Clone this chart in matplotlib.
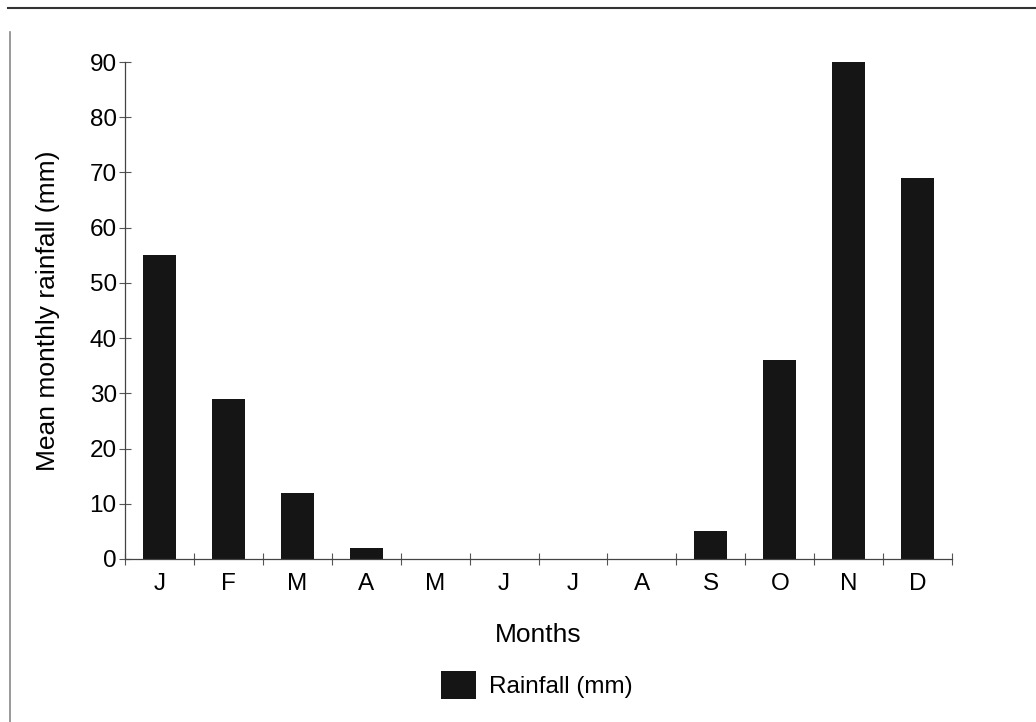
import numpy as np
import matplotlib.pyplot as plt
from matplotlib.lines import Line2D

plt.rcParams['font.family'] = ['Liberation Sans', 'DejaVu Sans']

# Mean monthly rainfall
months = ['J', 'F', 'M', 'A', 'M', 'J', 'J', 'A', 'S', 'O', 'N', 'D']
rainfall = [55, 29, 12, 2, 0, 0, 0, 0, 5, 36, 90, 69]
y_ticks = [0, 10, 20, 30, 40, 50, 60, 70, 80, 90]

fig = plt.figure(figsize=(10.36, 7.22), dpi=100)
ax = fig.add_axes([0.1207, 0.2258, 0.7983, 0.6883])

x = np.arange(len(months))
bars = ax.bar(x, rainfall, width=0.48, color='#151515', label='Rainfall (mm)')

ax.set_xlim(-0.5, len(months) - 0.5)
ax.set_ylim(0, 90)
ax.set_yticks(y_ticks)

# labels at category centres, tick marks at category boundaries
ax.set_xticks(x)
ax.set_xticklabels(months)
ax.set_xticks(np.arange(-0.5, len(months)), minor=True)
ax.tick_params(axis='x', which='major', length=0, pad=10, labelsize=17.5)
ax.tick_params(axis='x', which='minor', direction='inout', length=8, width=0.8, color='#555555')
ax.tick_params(axis='y', direction='inout', length=8, width=0.8, color='#555555', labelsize=17.5, pad=2)

for side in ['top', 'right']:
    ax.spines[side].set_visible(False)
for side in ['left', 'bottom']:
    ax.spines[side].set_color('#444444')
    ax.spines[side].set_linewidth(0.9)

ax.set_ylabel('Mean monthly rainfall (mm)', fontsize=19, labelpad=21)
ax.set_xlabel('Months', fontsize=19, labelpad=20)

fig.legend(handles=[bars], loc='center', bbox_to_anchor=(0.518, 0.051), frameon=False,
           fontsize=17.5, handlelength=1.45, handleheight=1.4, handletextpad=0.55)

# page frame lines visible at top and left of the scan
fig.add_artist(Line2D([0.008, 1.0], [0.989, 0.989], transform=fig.transFigure, color='#333333', lw=1.5))
fig.add_artist(Line2D([0.0095, 0.0095], [0.0, 0.955], transform=fig.transFigure, color='#888888', lw=1.2))

fig.savefig('out.png', dpi=100)
